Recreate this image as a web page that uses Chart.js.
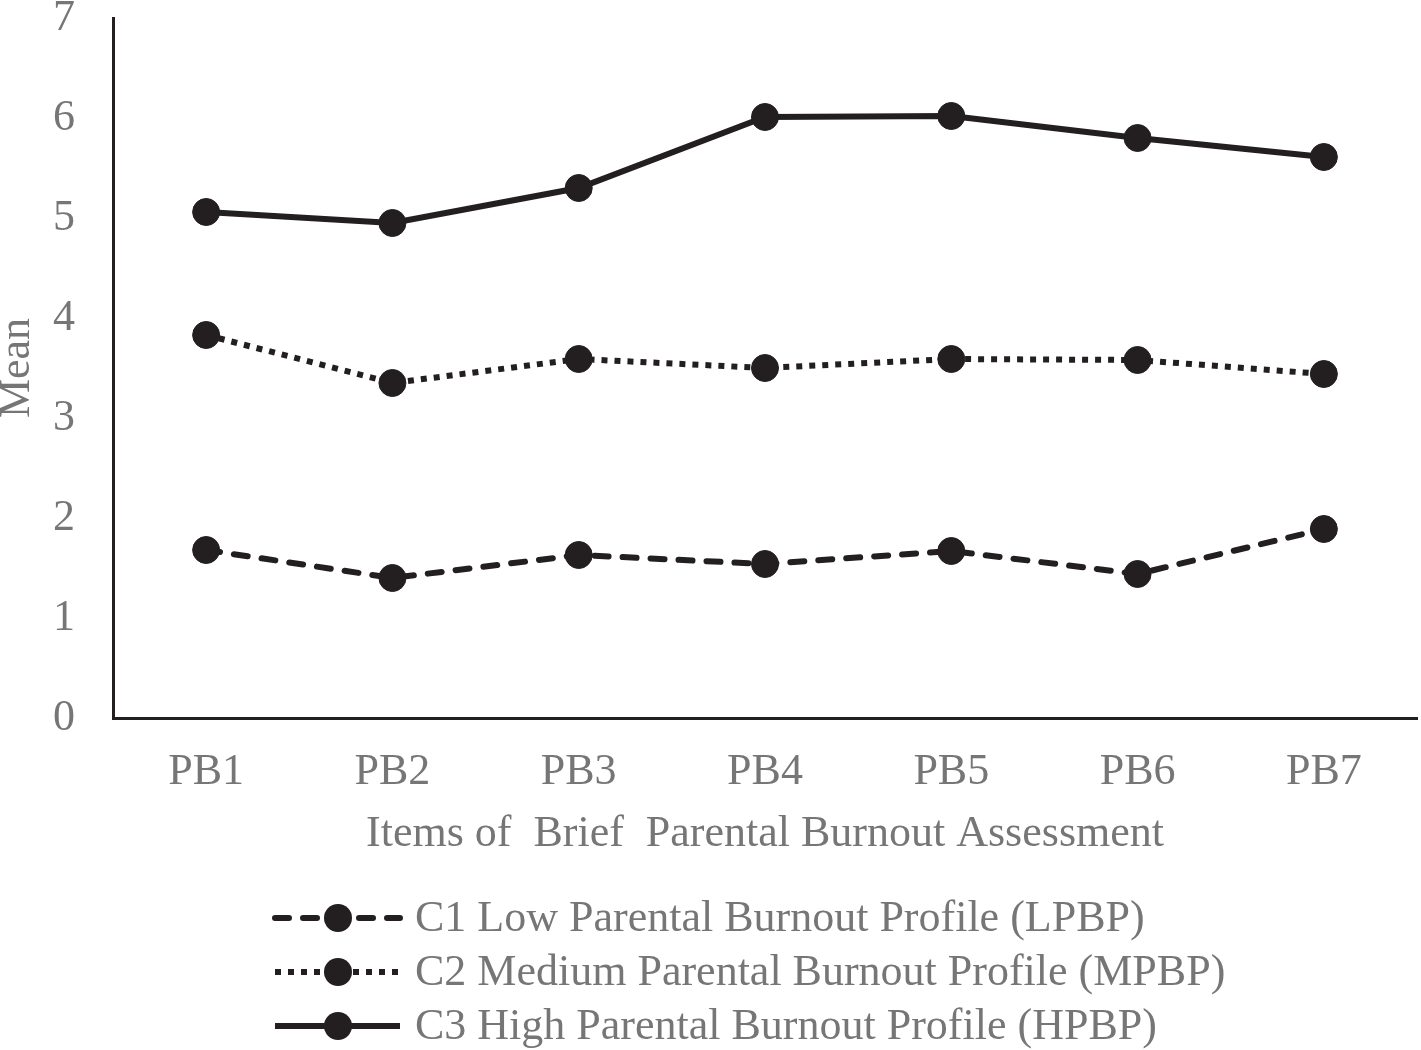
<!DOCTYPE html>
<html>
<head>
<meta charset="utf-8">
<script src="https://cdn.jsdelivr.net/npm/chart.js@4.4.1/dist/chart.umd.min.js"></script>
<style>
  html, body { margin: 0; padding: 0; background: #fff; overflow: hidden; }
  #wrap { position: absolute; left: 0; top: 0; width: 1421px; height: 1050px; }
  #chart { display: block; }
</style>
</head>
<body>
<div id="wrap"><canvas id="chart"></canvas></div>
<script>
const items = ['PB1', 'PB2', 'PB3', 'PB4', 'PB5', 'PB6', 'PB7']
const lowProfile = [1.68, 1.40, 1.63, 1.54, 1.67, 1.44, 1.89]
const mediumProfile = [3.83, 3.35, 3.59, 3.50, 3.59, 3.58, 3.44]
const highProfile = [5.06, 4.95, 5.30, 6.01, 6.02, 5.80, 5.61]
const seriesNames = [
    'C1 Low Parental Burnout Profile (LPBP)',
    'C2 Medium Parental Burnout Profile (MPBP)',
    'C3 High Parental Burnout Profile (HPBP)'
]
const yTicks = [0, 1, 2, 3, 4, 5, 6, 7]

const ink = '#231f20'
const grey = '#767676'
const serif = '"Liberation Serif", "Times New Roman", serif'
const fontSize = 44

const lineStyle = (dash, cap) => ({
    borderColor: ink,
    backgroundColor: ink,
    borderWidth: 6,
    borderDash: dash,
    borderCapStyle: cap,
    pointRadius: 13.5,
    pointBorderWidth: 1,
    pointBackgroundColor: ink,
    pointBorderColor: ink,
    tension: 0
})

// legend under the axis title: line sample with a marker, left aligned block
const sideLegend = {
    id: 'sideLegend',
    afterDraw(chart) {
        const ctx = chart.ctx
        const x0 = chart.chartArea.left + 159
        const rowY = [918, 972, 1026]
        ctx.save()
        chart.data.datasets.forEach((ds, i) => {
            const y = rowY[i]
            ctx.strokeStyle = ds.borderColor
            ctx.lineWidth = ds.borderWidth
            ctx.lineCap = ds.borderCapStyle
            ctx.setLineDash(ds.borderDash)
            ctx.beginPath()
            ctx.moveTo(x0 + 3, y)
            ctx.lineTo(x0 + 128, y)
            ctx.stroke()
            ctx.setLineDash([])
            ctx.fillStyle = ds.pointBackgroundColor
            ctx.beginPath()
            ctx.arc(x0 + 66, y, 14, 0, Math.PI * 2)
            ctx.fill()
            ctx.fillStyle = grey
            ctx.font = fontSize + 'px ' + serif
            ctx.textBaseline = 'middle'
            ctx.textAlign = 'left'
            ctx.fillText(ds.label, x0 + 143, y + 1)
        })
        ctx.restore()
    }
}

new Chart(document.getElementById('chart'), {
    type: 'line',
    data: {
        labels: items,
        datasets: [
            { label: seriesNames[0], data: lowProfile, ...lineStyle([14, 14], 'round') },
            { label: seriesNames[1], data: mediumProfile, ...lineStyle([6, 7], 'butt') },
            { label: seriesNames[2], data: highProfile, ...lineStyle([], 'butt') }
        ]
    },
    options: {
        responsive: true,
        maintainAspectRatio: false,
        animation: false,
        devicePixelRatio: 1,
        layout: { autoPadding: false, padding: { left: 0, top: 18, right: 4, bottom: 170 } },
        plugins: {
            legend: { display: false },
            tooltip: { enabled: false }
        },
        scales: {
            x: {
                offset: true,
                grid: { display: false, drawTicks: false },
                border: { display: true, color: ink, width: 3 },
                ticks: { color: grey, padding: 28, font: { family: serif, size: fontSize } },
                title: {
                    display: true,
                    text: 'Items of  Brief  Parental Burnout Assessment',
                    color: grey,
                    font: { family: serif, size: fontSize },
                    padding: { top: 0, bottom: 19 }
                },
                afterFit: (scale) => {
                    scale.height = 162
                    scale.paddingLeft = 0
                    scale.paddingRight = 0
                }
            },
            y: {
                min: 0,
                max: 7,
                afterBuildTicks: (scale) => { scale.ticks = yTicks.map(v => ({ value: v })) },
                grid: { display: false, drawTicks: false },
                border: { display: true, color: ink, width: 3 },
                ticks: { color: grey, padding: 38, font: { family: serif, size: fontSize } },
                title: {
                    display: true,
                    text: 'Mean',
                    color: grey,
                    font: { family: serif, size: fontSize, lineHeight: 0.8 },
                    padding: 0
                },
                afterFit: (scale) => {
                    scale.width = 113
                    scale.paddingTop = 0
                    scale.paddingBottom = 0
                }
            }
        }
    },
    plugins: [sideLegend]
})
</script>
</body>
</html>
